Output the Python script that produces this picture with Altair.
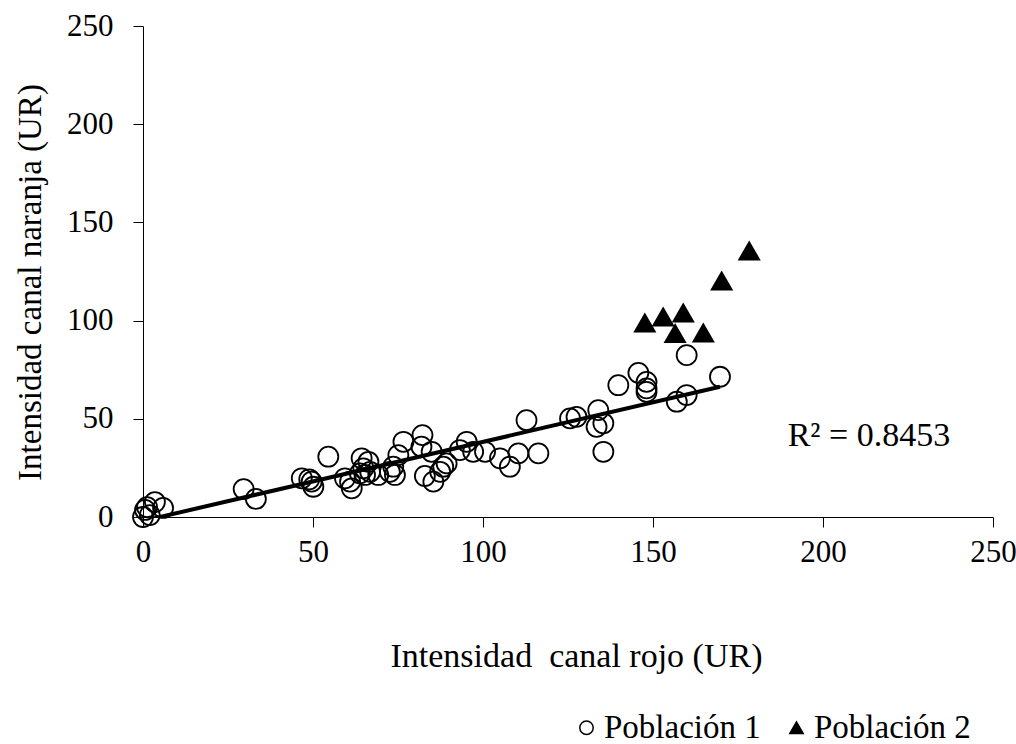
import altair as alt
import pandas as pd

# ---- data ----
groups = ["Población 1", "Población 2"]

p1_x = [0, 0.6, 1.2, 2, 3.5, 5.9, 29.6, 33.2,
        46.7, 48.9, 49.6, 50.1, 54.5,
        59.4, 60.9, 61.4, 63.8, 64.3, 64.8, 65.3, 66.3, 66.8, 69.2, 72.6, 73.6, 74.1, 75.1, 76.6,
        81.9, 82.2, 82.9, 84.9, 85.4, 87.4, 88.3, 89.3,
        93.2, 95.2, 97.1, 100.6, 105.0, 107.9, 110.4, 112.8, 116.3,
        125.6, 127.5, 133.4, 133.9, 135.4, 135.4,
        139.8, 145.7, 148.1, 148.1, 148.1, 157.0, 159.9, 159.9, 169.7]
p1_y = [0, 3.6, 5, 1, 7.6, 4.6, 14.2, 9.2,
        19.7, 19.2, 18.0, 15.4, 30.7,
        19.7, 18.0, 14.6, 22.2, 29.9, 24.8, 21.4, 28.1, 23.0, 21.4, 23.0, 25.6, 21.4, 31.5, 38.3,
        35.8, 41.7, 20.9, 33.2, 18.0, 23.0, 25.6, 27.3,
        34.1, 38.3, 33.2, 33.2, 29.9, 25.6, 32.4, 49.3, 32.4,
        50.2, 51.0, 45.9, 54.4, 47.7, 33.2,
        67.1, 73.4, 68.8, 65.5, 63.7, 58.7, 62.1, 82.4, 71.4]

p2_x = [147.6, 153.0, 158.9, 156.5, 164.8, 170.2, 178.3]
p2_y = [98.8, 101.9, 103.9, 93.4, 93.7, 120.2, 135.5]

trend_x = [0, 169.7]
trend_y = [-2.0, 66.3]

r2_label = ["R\u00b2 = 0.8453"]
r2_x = [213.5]
r2_y = [41.2]

x_ticks = [0, 50, 100, 150, 200, 250]
y_ticks = [0, 50, 100, 150, 200, 250]

x_title = "Intensidad\u00a0 canal rojo (UR)"
y_title = "Intensidad canal naranja (UR)"

# ---- tables ----
pts = pd.DataFrame({
    "x": p1_x + p2_x,
    "y": p1_y + p2_y,
    "g": [groups[0]] * len(p1_x) + [groups[1]] * len(p2_x),
})
trend = pd.DataFrame({"x": trend_x, "y": trend_y})
r2 = pd.DataFrame({"x": r2_x, "y": r2_y, "t": r2_label})

FONT = "Liberation Serif"
xs = alt.Scale(domain=[0, 250], nice=False, zero=False)
ys = alt.Scale(domain=[0, 250], nice=False, zero=False)

x_axis = alt.Axis(values=x_ticks, grid=False, tickSize=10, tickColor="black",
                  domainColor="black", labelFont=FONT, labelFontSize=31,
                  labelColor="black", labelPadding=10, labelFlush=False,
                  title=x_title,
                  titleFont=FONT, titleFontSize=34, titleFontWeight="normal",
                  titleColor="black", titleX=433, titleY=139,
                  titleAlign="center", titleBaseline="middle")
y_axis = alt.Axis(values=y_ticks, grid=False, tickSize=10, tickColor="black",
                  domainColor="black", labelFont=FONT, labelFontSize=31,
                  labelColor="black", labelPadding=20, labelFlush=False,
                  title=y_title,
                  titleFont=FONT, titleFontSize=33, titleFontWeight="normal",
                  titleColor="black", titleAngle=270, titleX=-113, titleY=256,
                  titleAlign="center", titleBaseline="middle")

leg = alt.Legend(orient="none", legendX=427, legendY=685, direction="horizontal",
                 title=None, labelFont=FONT, labelFontSize=33, labelColor="black",
                 labelLimit=400,
                 symbolSize=180, symbolStrokeWidth=1.5, symbolStrokeColor="black",
                 labelOffset=1, columnPadding=19, padding=0)

points = alt.Chart(pts).mark_point(size=400, strokeWidth=1.8, opacity=1).encode(
    x=alt.X("x:Q", scale=xs, axis=x_axis),
    y=alt.Y("y:Q", scale=ys, axis=y_axis),
    shape=alt.Shape("g:N", scale=alt.Scale(domain=groups, range=["circle", "triangle-up"]), legend=leg),
    fill=alt.Fill("g:N", scale=alt.Scale(domain=groups, range=["transparent", "black"]), legend=leg),
    stroke=alt.Stroke("g:N", scale=alt.Scale(domain=groups, range=["black", "black"]), legend=leg),
)

line = alt.Chart(trend).mark_line(color="black", strokeWidth=4, clip=True).encode(
    x=alt.X("x:Q", scale=xs),
    y=alt.Y("y:Q", scale=ys),
)

label = alt.Chart(r2).mark_text(font=FONT, fontSize=34, color="black",
                                align="center", baseline="middle").encode(
    x=alt.X("x:Q", scale=xs),
    y=alt.Y("y:Q", scale=ys),
    text="t:N",
)

chart = alt.layer(line, points, label).properties(
    width=850, height=491,
    autosize=alt.AutoSizeParams(type="none"),
    padding={"left": 143, "top": 26, "right": 23, "bottom": 227},
    background="white",
).configure_view(strokeWidth=0)

chart.save("out.html", embed_options={"renderer": "svg", "actions": False})
